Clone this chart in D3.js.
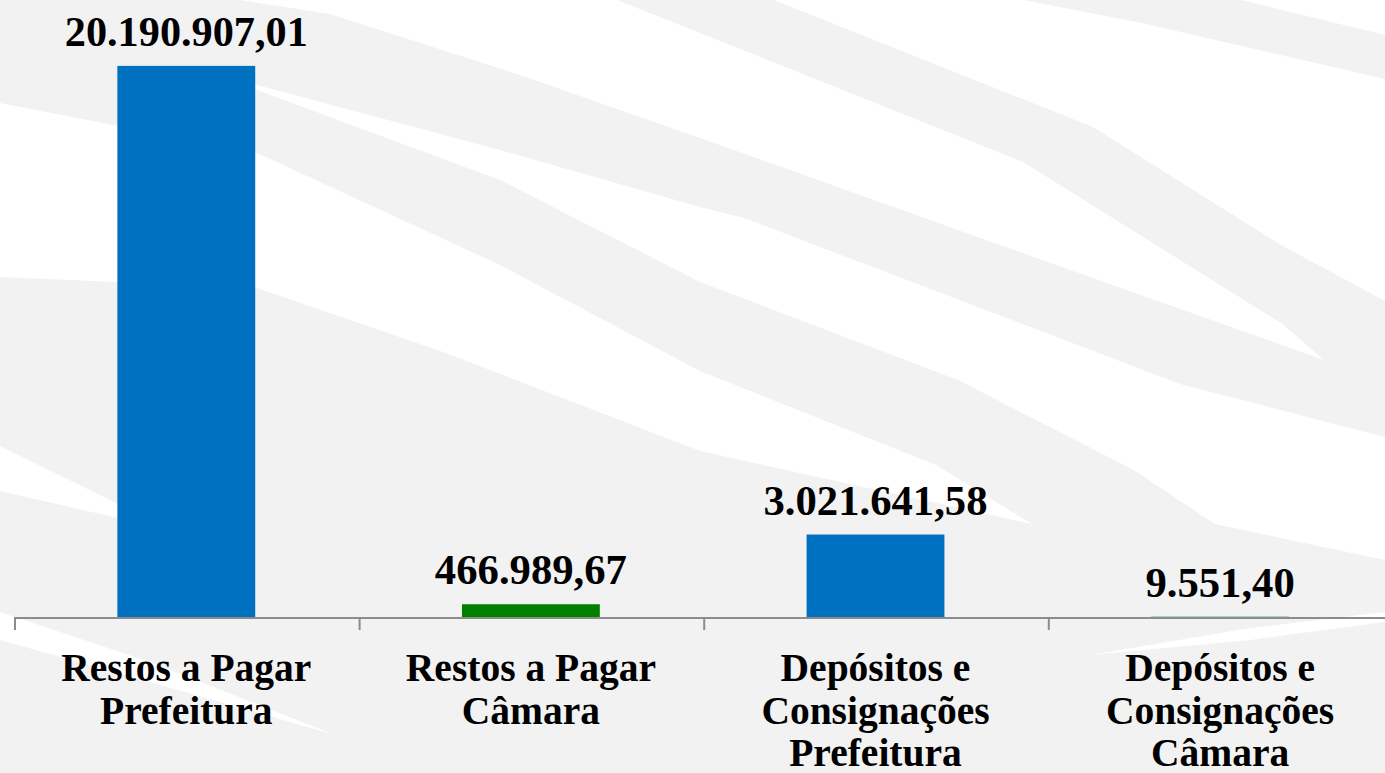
<!DOCTYPE html>
<html lang="pt">
	<head>
		<meta charset="utf-8">
		<script src="https://d3js.org/d3.v7.min.js"></script>
		<style>
			body { margin: 0; background: #ffffff; }
			svg { display: block; }
		</style>
	</head>
	<body>
		<script type="text/javascript">

			// Data
			var categories = ["Restos a Pagar Prefeitura", "Restos a Pagar Câmara",
			                  "Depósitos e Consignações Prefeitura", "Depósitos e Consignações Câmara"];
			var categoryLines = [["Restos a Pagar", "Prefeitura"],
			                     ["Restos a Pagar", "Câmara"],
			                     ["Depósitos e", "Consignações", "Prefeitura"],
			                     ["Depósitos e", "Consignações", "Câmara"]];
			var values = [20190907.01, 466989.67, 3021641.58, 9551.40];

			var barColors = ["#0070c0", "#008000", "#0070c0", "#008000"];

			//Width and height
			var w = 1385;
			var h = 773;
			var baseY = 617;

			var ptBR = d3.formatLocale({decimal: ",", thousands: ".", grouping: [3], currency: ["", ""]});
			var fmt = ptBR.format(",.2f");

			var svg = d3.select("body")
						.append("svg")
						.attr("width", w)
						.attr("height", h);

			// background swooshes (decoration only)
			var swooshes = [
				[[1023,0],[1241,0],[1385,35],[1385,79],[1137,22]],
				[[617,0],[774,0],[1093,127],[1281,245],[1385,301],[1385,385],[1324,360],[1281,323],[1023,162],[700,33]],
				[[0,0],[240,0],[330,14],[520,75],[700,138],[1000,245],[1324,360],[1385,385],[1385,437],[1180,384],[744,218],[700,207],[500,150],[257,85],[0,60]],
				[[0,50],[257,90],[500,180],[700,282],[958,380],[1132,469],[1215,524],[1385,560],[1385,640],[1032,524],[936,465],[700,371],[500,265],[257,153],[0,103]],
				[[0,277],[257,288],[446,353],[700,451],[1032,524],[1385,640],[1385,773],[0,773]]
			];
			var whiteStreaks = [
				[[0,446],[118,504],[257,560],[118,518],[0,491]],
				[[0,612],[150,662],[335,735],[150,682],[0,640]],
				[[1090,655],[1250,628],[1385,612],[1385,622],[1250,640]]
			];
			var bgLine = d3.line().curve(d3.curveLinearClosed);
			svg.append("g").selectAll("path")
				.data(swooshes).enter().append("path")
				.attr("d", bgLine)
				.style("fill", "#f2f2f2");
			svg.append("g").selectAll("path")
				.data(whiteStreaks).enter().append("path")
				.attr("d", bgLine)
				.style("fill", "#ffffff");

			// scales
			var step = 344.6;
			var x = d3.scaleBand()
					  .domain(categories)
					  .range([14, 14 + step * categories.length])
					  .paddingInner(0.6)
					  .paddingOuter(0.3);

			var y = d3.scaleLinear()
					  .domain([0, 22000000])
					  .range([baseY, 16.5]);

			// bars
			svg.append("g").selectAll("rect")
				.data(values).enter().append("rect")
				.attr("x", function(d, i) { return x(categories[i]); })
				.attr("y", function(d) { return y(d); })
				.attr("width", x.bandwidth())
				.attr("height", function(d) { return baseY - y(d); })
				.style("fill", function(d, i) { return barColors[i]; });

			// axis line and boundary ticks
			var gap = (x.step() - x.bandwidth()) / 2;
			var axis = svg.append("g").style("stroke", "#8c8c8c").style("stroke-width", 2);
			axis.append("line")
				.attr("x1", x(categories[0]) - gap).attr("x2", w + 10)
				.attr("y1", baseY + 1).attr("y2", baseY + 1);
			axis.selectAll("line.tick")
				.data(categories).enter().append("line")
				.attr("class", "tick")
				.attr("x1", function(d) { return x(d) - gap + 1; })
				.attr("x2", function(d) { return x(d) - gap + 1; })
				.attr("y1", baseY + 1).attr("y2", baseY + 13);

			var font = "'Liberation Serif', 'Times New Roman', serif";

			// value labels
			var maxLabel = x.step() * 0.7;
			svg.append("g").selectAll("text")
				.data(values).enter().append("text")
				.attr("x", function(d, i) { return x(categories[i]) + x.bandwidth() / 2; })
				.attr("y", function(d) { return y(d) - 20; })
				.attr("text-anchor", "middle")
				.style("font-family", font)
				.style("font-weight", "bold")
				.style("font-size", "42.7px")
				.style("fill", "#000")
				.text(function(d) { return fmt(d); })
				.each(function() {
					if (this.getComputedTextLength() > maxLabel) {
						d3.select(this).attr("textLength", 243).attr("lengthAdjust", "spacingAndGlyphs");
					}
				});

			// category labels
			var cats = svg.append("g").selectAll("text")
				.data(categoryLines).enter().append("text")
				.attr("text-anchor", "middle")
				.style("font-family", font)
				.style("font-weight", "bold")
				.style("font-size", "39.5px")
				.style("fill", "#000");

			cats.each(function(lines, i) {
				var cx = x(categories[i]) + x.bandwidth() / 2;
				d3.select(this).selectAll("tspan")
					.data(lines).enter().append("tspan")
					.attr("x", cx)
					.attr("y", function(d, j) { return 681 + j * 42.5; })
					.text(function(d) { return d; });
			});

		</script>
	</body>
</html>
